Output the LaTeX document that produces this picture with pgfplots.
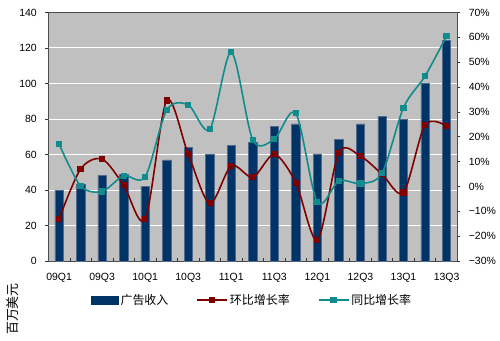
\documentclass[border=0pt]{standalone}
\usepackage{pgfplots}
\usepackage{pgfplotstable}
\pgfplotsset{compat=1.18}
\usepackage{fontspec}
\setmainfont{Liberation Sans}
\newfontfamily\cjk{Noto Sans CJK SC}
\definecolor{barblue}{RGB}{0,51,102}
\definecolor{baredge}{RGB}{80,105,140}
\definecolor{bggray}{RGB}{192,192,192}
\definecolor{redline}{RGB}{128,0,0}
\definecolor{tealline}{RGB}{16,140,140}
\pgfplotstableread{
x bar hb tb
0 40.0 -13.1 17.1
1 43.0 7.0 0.2
2 48.3 11.0 -2.0
3 49.0 0.5 4.3
4 42.0 -13.2 3.9
5 57.0 34.6 30.7
6 64.0 13.0 32.8
7 60.0 -6.8 23.0
8 65.0 8.3 54.0
9 66.8 3.7 18.7
10 76.0 12.9 19.1
11 77.2 1.5 29.4
12 60.3 -21.6 -6.4
13 68.7 13.6 2.2
14 77.2 12.2 1.2
15 81.5 5.0 5.3
16 80.0 -2.4 31.7
17 100.0 24.7 44.4
18 124.3 24.3 60.5
}\data
\pgfplotsset{every tick label/.append style={font=\fontsize{10.5}{12}\selectfont, text=black},
  linelegend/.style={legend image code/.code={\draw[##1, mark repeat=2, mark phase=2] plot coordinates {(0bp,0bp) (15bp,0bp) (30bp,0bp)};}},
  barlegend/.style={legend image code/.code={\fill[barblue] (0bp,-4bp) rectangle (27bp,4bp);}}}
\begin{document}
\begin{tikzpicture}[x=1bp,y=1bp]
\useasboundingbox (0,0) rectangle (500,340);
\begin{axis}[
  at={(48.3bp,79bp)}, anchor=south west,
  width=409bp, height=248.5bp, scale only axis,
  xmin=-0.5, xmax=18.5, ymin=0, ymax=140,
  axis background/.style={fill=bggray},
  axis line style={draw=black!70, line width=0.8bp},
  tick align=outside, major tick length=3bp,
  tick style={draw=black!80, line width=0.6bp},
  ytick pos=left, xtick pos=bottom,
  ytick={20,40,...,120}, yticklabels={20,40,60,80,100,120},
  extra y ticks={0,140}, extra y tick labels={0,140},
  extra y tick style={grid=none},
  y tick label style={xshift=-5bp},
  x tick label style={yshift=-9bp},
  ymajorgrids, grid style={white, line width=1bp},
  xtick={0.5,1.5,...,17.5}, xticklabels={},
  xtick style={yshift=3bp},
  extra x ticks={0,2,...,18},
  extra x tick labels={09Q1,09Q3,10Q1,10Q3,11Q1,11Q3,12Q1,12Q3,13Q1,13Q3},
  extra x tick style={major tick length=0pt},
]
\addplot[ybar, bar width=0.39, fill=barblue, draw=baredge, line width=0.5bp] table[x=x,y=bar] {\data};
\end{axis}
\begin{axis}[
  at={(48.3bp,79bp)}, anchor=south west,
  width=409bp, height=248.5bp, scale only axis,
  xmin=-0.5, xmax=18.5, ymin=-30, ymax=70,
  hide x axis, axis y line*=right,
  axis line style={draw=black!70, line width=0.8bp},
  tick align=outside, major tick length=3bp,
  tick style={draw=black!80, line width=0.6bp},
  ytick={-30,-20,...,70},
  y tick label style={xshift=5bp},
  yticklabels={−30\%,−20\%,−10\%,0\%,10\%,20\%,30\%,40\%,50\%,60\%,70\%},
  legend style={at={(0.097,-0.157)}, anchor=west, draw=none, fill=none,
    font=\cjk\fontsize{12}{14}\selectfont, legend columns=3,
    /tikz/every even column/.append style={column sep=26bp}},
]
\addlegendimage{barlegend}
\addlegendentry{广告收入}
\addplot[smooth, color=redline, line width=1.6bp, mark=square*, mark size=2.3bp, linelegend]
  table[x=x,y=hb] {\data};
\addlegendentry{环比增长率}
\addplot[smooth, color=tealline, line width=1.6bp, mark=square*, mark size=2.3bp, linelegend]
  table[x=x,y=tb] {\data};
\addlegendentry{同比增长率}
\end{axis}
\node[rotate=90, font=\cjk\fontsize{13}{15}\selectfont] at (12.5,31) {百万美元};
\end{tikzpicture}
\end{document}
